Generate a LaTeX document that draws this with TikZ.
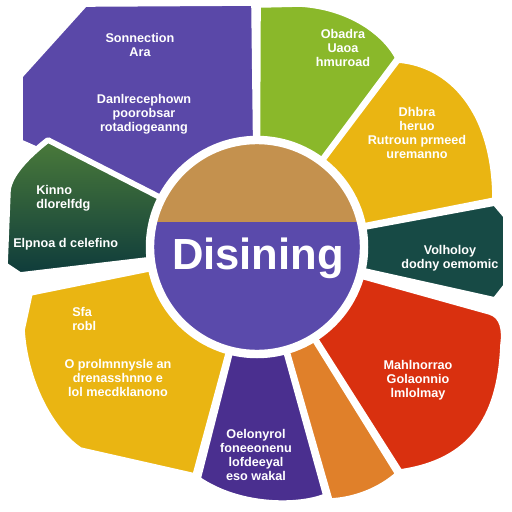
\documentclass[tikz,border=0pt]{standalone}
\usepackage{fontspec}
\setsansfont{Liberation Sans}
\usepackage{xcolor}
\definecolor{petalpurple}{HTML}{5A48A8}
\definecolor{deeppurple}{HTML}{4A2F8F}
\definecolor{leafgreen}{HTML}{8AB82A}
\definecolor{sunyellow}{HTML}{EAB512}
\definecolor{deepteal}{HTML}{174A45}
\definecolor{mossgreen}{HTML}{4A7A3A}
\definecolor{pinegreen}{HTML}{0E3B3B}
\definecolor{firered}{HTML}{D9300F}
\definecolor{amber}{HTML}{E0802A}
\definecolor{hubtan}{HTML}{C4914E}
\definecolor{hubpurple}{HTML}{5A4AAB}
\usepackage{tikz}

\begin{document}
\begin{tikzpicture}[
  x=0.025cm, y=-0.025cm,
  petal/.style={draw=white,line width=4pt,line join=round},
  lbl/.style={text=white,align=center,inner sep=0pt,font=\sffamily\bfseries\fontsize{9}{10}\selectfont},
]
\useasboundingbox (0,0) rectangle (512,512);

% petals, clockwise from the top
\fill[petal,fill=petalpurple] (257,247) -- (254,3) -- (85,4) -- (20,76) -- (20,142) -- cycle;
\fill[petal,fill=leafgreen] (257,247) -- (258,5) -- (300,4) .. controls (350,7) and (385,33) .. (398,58) -- cycle;
\fill[petal,fill=sunyellow] (257,247) -- (398,60) .. controls (450,64) and (495,110) .. (495,200) -- cycle;
\fill[petal,fill=deepteal] (257,247) -- (495,203) -- (506,216) -- (506,286) -- (495,300) -- cycle;
\fill[petal,fill=firered] (257,247) -- (490,312) .. controls (503,316) and (505,330) .. (503,345) .. controls (500,420) and (470,462) .. (400,472) -- cycle;
\fill[petal,fill=amber] (257,247) -- (398,474) .. controls (380,490) and (355,500) .. (330,501) -- cycle;
\fill[petal,fill=deeppurple] (257,247) -- (326,496) .. controls (300,507) and (240,508) .. (198,479) -- cycle;
\fill[petal,fill=sunyellow] (257,247) -- (30,293) -- (22,330) .. controls (25,380) and (50,430) .. (80,450) -- (195,476) -- cycle;
\path[petal,top color=mossgreen,bottom color=pinegreen] (257,247) -- (48,140) .. controls (25,158) and (10,175) .. (8,190) -- (5,265) -- (20,275) -- cycle;

% hub
\node[circle,minimum size=5.35cm,inner sep=0pt,fill=hubpurple,draw=white,line width=6pt,
  path picture={\fill[hubtan] (path picture bounding box.north west) rectangle ([yshift=0.625cm]path picture bounding box.east);}] (hub) at (257,247) {};
\node[text=white,font=\sffamily\bfseries\fontsize{31}{31}\selectfont] (title) at (258,258) {Disining};

% petal texts
\node[lbl] (conn) at (140,45) {Sonnection\\Ara};
\node[lbl] (connbody) at (144,114) {Danlrecephown\\poorobsar\\rotadiogeanng};
\node[lbl] (obad) at (343,48) {Obadra\\Uaoa\\hmuroad};
\node[lbl] (dhbra) at (417,133) {Dhbra\\heruo\\Rutroun prmeed\\uremanno};
\node[lbl] (volh) at (450,258) {Volholoy\\dodny oemomic};
\node[lbl] (mahl) at (418,380) {Mahlnorrao\\Golaonnio\\lmlolmay};
\node[lbl] (oelo) at (256,455) {Oelonyrol\\foneeonenu\\lofdeeyal\\eso wakal};
\node[lbl,align=left,anchor=west] (sfa) at (72,319) {Sfa\\robl};
\node[lbl] (prol) at (118,378) {O prolmnnysle an\\drenasshnno e\\lol mecdklanono};
\node[lbl,align=left,anchor=west] (kinn) at (36,198) {Kinno\\dlorelfdg};
\node[lbl,anchor=west] (elpn) at (13,244) {Elpnoa d celefino};
\end{tikzpicture}
\end{document}
